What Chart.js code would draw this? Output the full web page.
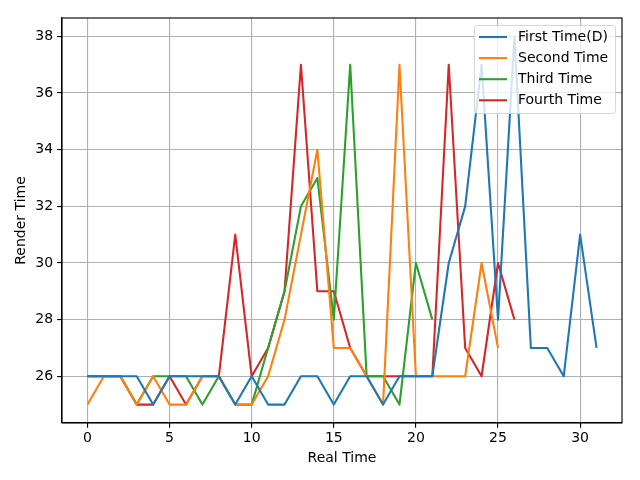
<!DOCTYPE html>
<html>
<head>
<meta charset="utf-8">
<script src="https://cdn.jsdelivr.net/npm/chart.js@4/dist/chart.umd.min.js"></script>
<style>
    body { margin: 0; background: #fff; }
    #chart { display: block; }
</style>
</head>
<body>
<canvas id="chart" width="640" height="480"></canvas>
<script>
const seriesNames = ['First Time(D)', 'Second Time', 'Third Time', 'Fourth Time'];
const seriesColors = ['#1f77b4', '#ff7f0e', '#2ca02c', '#d62728'];

// render time per real time step (x = index)
const firstTime = [26, 26, 26, 26, 25, 26, 26, 26, 26, 25, 26, 25, 25, 26, 26, 25, 26, 26, 25, 26, 26, 26, 30, 32, 37, 28, 38, 27, 27, 26, 31, 27];
const secondTime = [25, 26, 26, 25, 26, 25, 25, 26, 26, 25, 25, 26, 28, 31, 34, 27, 27, 26, 25, 37, 26, 26, 26, 26, 30, 27];
const thirdTime = [26, 26, 26, 25, 26, 26, 26, 25, 26, 25, 25, 27, 29, 32, 33, 28, 37, 26, 26, 25, 30, 28];
const fourthTime = [26, 26, 26, 25, 25, 26, 25, 26, 26, 31, 26, 27, 29, 37, 29, 29, 27, 26, 26, 26, 26, 26, 37, 27, 26, 30, 28];

const xTicks = [0, 5, 10, 15, 20, 25, 30];
const yTicks = [26, 28, 30, 32, 34, 36, 38];

const FONT = 'DejaVu Sans';
const PT = 100 / 72;

function toPoints(values) {
    return values.map((v, i) => ({x: i, y: v}));
}

// top and right spines
const framePlugin = {
    id: 'frame',
    afterDatasetsDraw(chart) {
        const {ctx, chartArea: a} = chart;
        ctx.save();
        ctx.strokeStyle = '#000';
        ctx.lineWidth = 0.8 * PT;
        ctx.strokeRect(a.left, a.top, a.right - a.left, a.bottom - a.top);
        ctx.restore();
    }
};

// legend drawn inside the plot, upper right
const insideLegend = {
    id: 'insideLegend',
    afterDraw(chart) {
        const ctx = chart.ctx;
        const x0 = 474, y0 = 25, w = 141, h = 88, r = 3;
        ctx.save();
        ctx.beginPath();
        ctx.roundRect(x0 + 0.5, y0 + 0.5, w, h, r);
        ctx.fillStyle = 'rgba(255,255,255,0.8)';
        ctx.fill();
        ctx.strokeStyle = 'rgba(204,204,204,0.8)';
        ctx.lineWidth = 1;
        ctx.stroke();

        ctx.font = `14px "${FONT}"`;
        ctx.textBaseline = 'middle';
        ctx.fillStyle = '#000';
        chart.data.datasets.forEach((ds, i) => {
            const y = 37 + i * 21.1;
            ctx.beginPath();
            ctx.moveTo(479, y);
            ctx.lineTo(507, y);
            ctx.strokeStyle = ds.borderColor;
            ctx.lineWidth = 1.5 * PT;
            ctx.stroke();
            ctx.fillText(ds.label, 518, y);
        });
        ctx.restore();
    }
};

window.addEventListener('DOMContentLoaded', function () {
    const ctx = document.getElementById('chart');
    const allSeries = [firstTime, secondTime, thirdTime, fourthTime];

    const axis = (min, max, ticks, title, tickPad, titlePad, extra) => Object.assign({
        type: 'linear',
        min: min,
        max: max,
        afterBuildTicks: s => { s.ticks = ticks.map(v => ({value: v})); },
        grid: {
            color: '#b0b0b0',
            lineWidth: 0.8 * PT,
            tickColor: '#000',
            tickWidth: 0.8 * PT,
            tickLength: 3.5 * PT
        },
        border: {color: '#000', width: 0.8 * PT},
        ticks: {
            color: '#000',
            font: {family: FONT, size: 14},
            padding: tickPad
        },
        title: {
            display: true,
            text: title,
            color: '#000',
            font: {family: FONT, size: 14},
            padding: titlePad
        }
    }, extra);

    new Chart(ctx, {
        type: 'line',
        data: {
            datasets: allSeries.map((values, i) => ({
                label: seriesNames[i],
                data: toPoints(values),
                borderColor: seriesColors[i],
                backgroundColor: seriesColors[i],
                borderWidth: 1.5 * PT,
                pointRadius: 0,
                tension: 0,
                borderJoinStyle: 'round',
                fill: false
            }))
        },
        options: {
            responsive: false,
            animation: false,
            devicePixelRatio: 1,
            layout: {padding: {top: 18, right: 18, left: 0, bottom: 0}},
            plugins: {
                legend: {display: false},
                tooltip: {enabled: false}
            },
            scales: {
                x: axis(-1.55, 32.55, xTicks, 'Real Time', 2, {top: 0, bottom: 13}, {
                    afterFit: s => { s.height = 57; }
                }),
                y: axis(24.35, 38.65, yTicks, 'Render Time', 4, {top: 13, bottom: 0}, {
                    afterFit: s => { s.width = 62; }
                })
            }
        },
        plugins: [framePlugin, insideLegend]
    });
});
</script>
</body>
</html>
